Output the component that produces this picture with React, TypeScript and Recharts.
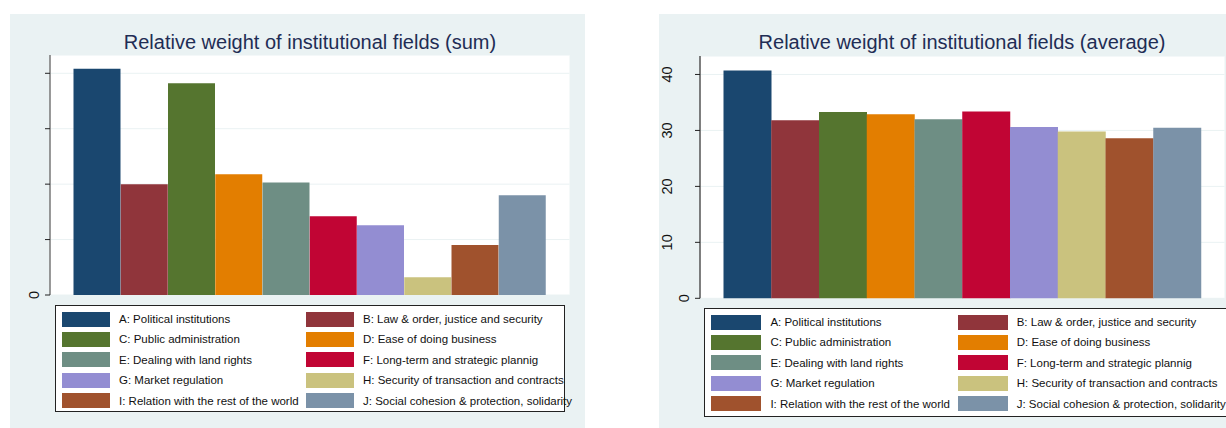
import React from 'react'
import { BarChart, Bar, Cell, XAxis, YAxis, CartesianGrid } from 'recharts'

const CATEGORIES = ['A', 'B', 'C', 'D', 'E', 'F', 'G', 'H', 'I', 'J']
const FIELD_LABELS = [
  'A: Political institutions',
  'B: Law & order, justice and security',
  'C: Public administration',
  'D: Ease of doing business',
  'E: Dealing with land rights',
  'F: Long-term and strategic plannig',
  'G: Market regulation',
  'H: Security of transaction and contracts',
  'I: Relation with the rest of the world',
  'J: Social cohesion & protection, solidarity',
]
// left chart has no readable scale, values are in tick units x100
const SUM_VALUES = [408, 200, 382, 218, 203, 142, 126, 32, 90, 180]
const AVG_VALUES = [40.7, 31.8, 33.3, 32.9, 32.0, 33.4, 30.6, 29.8, 28.6, 30.5]
const SUM_TICKS = [0, 100, 200, 300, 400]
const AVG_TICKS = [0, 10, 20, 30, 40]

const COLORS = [
  '#1a476f',
  '#90353b',
  '#55752f',
  '#e37e00',
  '#6e8e84',
  '#c10534',
  '#938dd2',
  '#cac27e',
  '#a0522d',
  '#7b92a8',
]

const FONT = "'Liberation Sans', Arial, sans-serif"
const PANEL_BG = '#eaf2f3'

const sumData = CATEGORIES.map((c, i) => ({ cat: c, value: SUM_VALUES[i] }))
const avgData = CATEGORIES.map((c, i) => ({ cat: c, value: AVG_VALUES[i] }))

function RotatedTick(props: any) {
  const { x, y, payload, zeroOnly } = props
  if (zeroOnly && payload.value !== 0) return null
  const cx = payload.value === 0 ? x - 11 : x - 28
  return (
    <text
      x={cx}
      y={y}
      transform={`rotate(-90, ${cx}, ${y})`}
      textAnchor="middle"
      dominantBaseline="central"
      fontSize={14.5}
      fontFamily={FONT}
      fill="#111"
    >
      {payload.value}
    </text>
  )
}

function FieldLegend({ style, swatchW, col2 }: { style: React.CSSProperties; swatchW: number; col2: number }) {
  return (
    <div
      style={{
        position: 'absolute',
        background: '#fff',
        border: '1px solid #222',
        boxSizing: 'border-box',
        ...style,
      }}
    >
      {FIELD_LABELS.map((label, i) => {
        const row = Math.floor(i / 2)
        const left = i % 2 === 0 ? 6 : col2
        return (
          <div
            key={label}
            style={{
              position: 'absolute',
              left,
              top: 5 + row * 20.4,
              height: 16,
              display: 'flex',
              alignItems: 'center',
              whiteSpace: 'nowrap',
            }}
          >
            <div style={{ width: swatchW, height: 15, background: COLORS[i] }} />
            <span style={{ marginLeft: 9, fontSize: 11.5, fontFamily: FONT, color: '#111' }}>{label}</span>
          </div>
        )
      })}
    </div>
  )
}

function Title({ text, center }: { text: string; center: number }) {
  return (
    <div
      style={{
        position: 'absolute',
        left: center - 250,
        width: 500,
        top: 18,
        textAlign: 'center',
        fontSize: 20,
        lineHeight: '20px',
        fontFamily: FONT,
        color: '#1f2d55',
        whiteSpace: 'nowrap',
      }}
    >
      {text}
    </div>
  )
}

export default function App() {
  return (
    <div style={{ position: 'absolute', left: 0, top: 0, width: 1226, height: 428, background: '#fff', overflow: 'hidden' }}>
      {/* Sum panel */}
      <div style={{ position: 'absolute', left: 10, top: 14, width: 575, height: 414, background: PANEL_BG, overflow: 'hidden' }}>
        <Title text="Relative weight of institutional fields (sum)" center={300} />
        <div style={{ position: 'absolute', left: 0, top: 0 }}>
          <BarChart
            width={575}
            height={300}
            data={sumData}
            barCategoryGap={0}
            margin={{ top: 41, right: 15.5, bottom: 19, left: 10 }}
          >
            <CartesianGrid vertical={false} stroke={PANEL_BG} fill="#fff" />
            <XAxis
              dataKey="cat"
              height={0}
              tick={false}
              tickLine={false}
              axisLine={{ stroke: '#111', strokeWidth: 1.5 }}
              padding={{ left: 23.5, right: 23.5 }}
            />
            <YAxis
              width={30}
              domain={[0, 433]}
              ticks={SUM_TICKS}
              tickSize={5}
              tickMargin={0}
              axisLine={{ stroke: '#777', strokeWidth: 1.5 }}
              tickLine={{ stroke: '#222' }}
              tick={<RotatedTick zeroOnly />}
            />
            <Bar dataKey="value" isAnimationActive={false}>
              {sumData.map((d, i) => (
                <Cell key={d.cat} fill={COLORS[i]} />
              ))}
            </Bar>
          </BarChart>
        </div>
        <FieldLegend style={{ left: 45, top: 291, width: 510, height: 107 }} swatchW={48} col2={250} />
      </div>

      {/* Average panel */}
      <div style={{ position: 'absolute', left: 659, top: 14, width: 567, height: 414, background: PANEL_BG, overflow: 'hidden' }}>
        <Title text="Relative weight of institutional fields (average)" center={303} />
        <div style={{ position: 'absolute', left: 0, top: 0 }}>
          <BarChart
            width={567}
            height={300}
            data={avgData}
            barCategoryGap={0}
            margin={{ top: 42, right: 1.5, bottom: 15.7, left: 11 }}
          >
            <CartesianGrid vertical={false} stroke={PANEL_BG} fill="#fff" />
            <XAxis
              dataKey="cat"
              height={0}
              tick={false}
              tickLine={false}
              axisLine={{ stroke: '#111', strokeWidth: 1.5 }}
              padding={{ left: 23.5, right: 23.5 }}
            />
            <YAxis
              width={30}
              domain={[0, 43.3]}
              ticks={AVG_TICKS}
              tickSize={5}
              tickMargin={0}
              axisLine={{ stroke: '#555', strokeWidth: 1.5 }}
              tickLine={{ stroke: '#222' }}
              tick={<RotatedTick />}
            />
            <Bar dataKey="value" isAnimationActive={false}>
              {avgData.map((d, i) => (
                <Cell key={d.cat} fill={COLORS[i]} />
              ))}
            </Bar>
          </BarChart>
        </div>
        <FieldLegend style={{ left: 45.4, top: 294, width: 540, height: 109 }} swatchW={50} col2={252.3} />
      </div>
    </div>
  )
}
